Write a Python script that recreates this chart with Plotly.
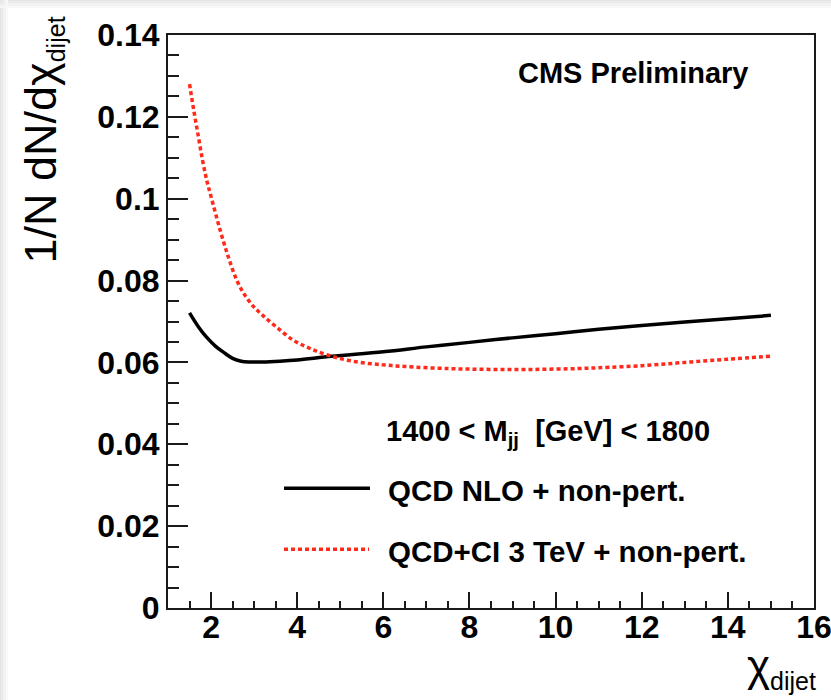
import plotly.graph_objects as go

# Normalised dijet angular distributions, 1400 < Mjj < 1800 GeV
chi_qcd = [1.5, 1.7, 1.9, 2.1, 2.3, 2.5, 2.7, 2.9, 3.2, 3.6, 4.0, 4.8, 6.0, 7.0,
           8.0, 9.0, 10.0, 11.0, 12.0, 13.0, 14.0, 15.0]
qcd_nlo = [0.0721, 0.0688, 0.0661, 0.0640, 0.0624, 0.0610, 0.0603, 0.0601, 0.0601,
           0.0603, 0.0606, 0.0615, 0.0626, 0.0638, 0.0649, 0.0660, 0.0670, 0.0681,
           0.0690, 0.0699, 0.0707, 0.0715]

chi_ci = [1.5, 1.6, 1.7, 1.8, 1.9, 2.0, 2.2, 2.4, 2.6, 2.8, 3.0, 3.2, 3.5, 3.9, 4.3,
          4.8, 5.4, 6.0, 6.5, 7.5, 8.5, 9.5, 10.5, 11.0, 12.0, 13.0, 14.0, 15.0]
qcd_ci = [0.1280, 0.1215, 0.1155, 0.1095, 0.1045, 0.1005, 0.0927, 0.0858, 0.0800,
          0.0762, 0.0735, 0.0715, 0.0688, 0.0655, 0.0634, 0.0615, 0.0601, 0.0594,
          0.0590, 0.0585, 0.0583, 0.0583, 0.0585, 0.0587, 0.0592, 0.0600, 0.0608,
          0.0615]

x_ticks = [2, 4, 6, 8, 10, 12, 14, 16]
x_ticktext = ["2", "4", "6", "8", "10", "12", "14", "16"]
y_ticks = [0, 0.02, 0.04, 0.06, 0.08, 0.10, 0.12, 0.14]
y_ticktext = ["0", "0.02", "0.04", "0.06", "0.08", "0.1", "0.12", "0.14"]

names = ["QCD NLO + non-pert.", "QCD+CI 3 TeV + non-pert."]
header = "1400 < M<sub>jj</sub>  [GeV] < 1800"

W, H = 831, 700
ML, MR, MT, MB = 168, 17, 35, 92
PW, PH = W - ML - MR, H - MT - MB


def px(x):
    return (x - ML) / PW


def py(y):
    return (H - MB - y) / PH


FONT = "Liberation Sans, Arial, Helvetica, sans-serif"
RED = "#ff2a1a"
SUB = '<sub><span style="font-size:25px">dijet</span></sub>'

fig = go.Figure()
fig.add_trace(go.Scatter(x=chi_qcd, y=qcd_nlo, mode="lines", name=names[0],
                         line=dict(color="black", width=3.5, shape="spline")))
fig.add_trace(go.Scatter(x=chi_ci, y=qcd_ci, mode="lines", name=names[1],
                         line=dict(color=RED, width=3.5, dash="4px,3px", shape="spline")))

axis_common = dict(showline=True, linecolor="#1a1a1a", linewidth=2, mirror=True,
                   showgrid=False, zeroline=False, ticks="inside", tickcolor="#1a1a1a",
                   tickwidth=1.5, ticklabeloverflow="allow", automargin=False,
                   tickfont=dict(family=FONT, size=32, color="black", weight="bold"))

fig.update_xaxes(range=[1, 16], tickvals=x_ticks, ticktext=x_ticktext, ticklen=16,
                 ticklabelstandoff=-10,
                 minor=dict(dtick=0.5, tick0=0, ticklen=7, ticks="inside",
                            tickcolor="#1a1a1a", tickwidth=1.5),
                 **axis_common)
fig.update_yaxes(range=[0, 0.14], tickvals=y_ticks, ticktext=y_ticktext, ticklen=20,
                 minor=dict(dtick=0.005, tick0=0, ticklen=11, ticks="inside",
                            tickcolor="#1a1a1a", tickwidth=1.5),
                 **axis_common)

ann = []
# axis titles
ann.append(dict(text="1/N dN/dχ" + SUB, textangle=-90, xref="paper", yref="paper",
                x=px(42), y=py(15), xanchor="center", yanchor="top", showarrow=False,
                font=dict(family=FONT, size=45, color="black")))
ann.append(dict(text="χ" + SUB, xref="paper", yref="paper",
                x=px(818), y=py(639), xanchor="right", yanchor="top", showarrow=False,
                font=dict(family=FONT, size=44, color="black")))
# label
ann.append(dict(text="CMS Preliminary", xref="paper", yref="paper",
                x=px(633), y=py(73), xanchor="center", yanchor="middle", showarrow=False,
                font=dict(family=FONT, size=29, color="black", weight="bold")))
# legend
ann.append(dict(text=header, xref="paper", yref="paper",
                x=px(384), y=py(433), xanchor="left", yanchor="middle", showarrow=False,
                font=dict(family=FONT, size=29, color="black", weight="bold")))
for name, yy in zip(names, [490.5, 551.5]):
    ann.append(dict(text=name, xref="paper", yref="paper",
                    x=px(386), y=py(yy), xanchor="left", yanchor="middle", showarrow=False,
                    font=dict(family=FONT, size=29.5, color="black", weight="bold")))

shapes = [
    dict(type="line", xref="paper", yref="paper", x0=px(284), x1=px(370),
         y0=py(488.3), y1=py(488.3), line=dict(color="black", width=3.5)),
    dict(type="line", xref="paper", yref="paper", x0=px(284), x1=px(369),
         y0=py(549.3), y1=py(549.3), line=dict(color=RED, width=3.5, dash="4px,3px")),
]
# soft page edge along the top and left
greys = ["#e4e4e4", "#e9e9e9", "#eeeeee", "#f3f3f3", "#f8f8f8"]
for i, g in enumerate(greys):
    shapes.append(dict(type="rect", xref="paper", yref="paper", layer="below",
                       x0=px(0), x1=px(W), y0=py(i * 1.6), y1=py((i + 1) * 1.6),
                       line=dict(width=0), fillcolor=g))
    shapes.append(dict(type="rect", xref="paper", yref="paper", layer="below",
                       x0=px(i * 1.6), x1=px((i + 1) * 1.6), y0=py(0), y1=py(H),
                       line=dict(width=0), fillcolor=g))

fig.update_layout(width=W, height=H, margin=dict(l=ML, r=MR, t=MT, b=MB, autoexpand=False),
                  paper_bgcolor="white", plot_bgcolor="white", showlegend=False,
                  annotations=ann, shapes=shapes)

fig.write_html("out.html")
